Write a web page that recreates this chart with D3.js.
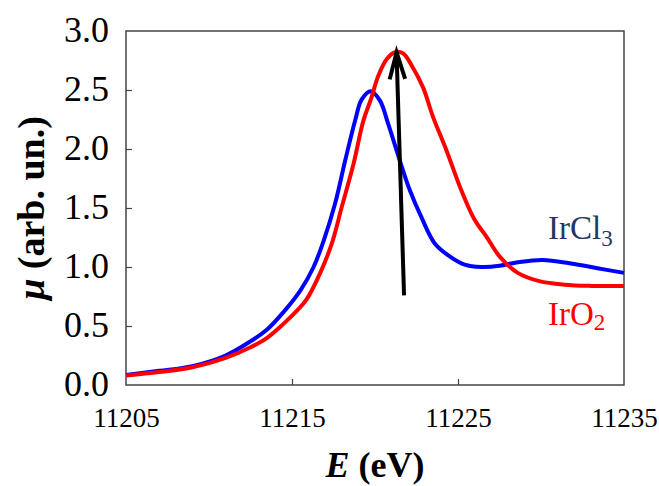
<!DOCTYPE html>
<html>
<head>
<meta charset="utf-8">
<script src="https://cdn.jsdelivr.net/npm/d3@7"></script>
<style>
  html, body { margin: 0; padding: 0; background: #fff; }
  svg { display: block; }
  text { font-family: "Liberation Serif", "Times New Roman", serif; }
</style>
</head>
<body>
<svg id="chart" width="659" height="486"></svg>
<script>
// Ir L3-edge XANES spectra
const energyIrCl3 = [11205, 11207, 11209, 11211, 11212.5, 11213.5, 11214.5, 11215.5, 11216.3, 11216.9,
  11217.6, 11218.2, 11218.8, 11219.2, 11219.75, 11220.3, 11220.8, 11221.5, 11222.1, 11222.8,
  11223.6, 11224.5, 11225.4, 11226.4, 11227.5, 11228.6, 11230.1, 11231.8, 11233.4, 11235];
const muIrCl3 = [0.085, 0.12, 0.16, 0.25, 0.37, 0.47, 0.62, 0.80, 1.0, 1.22,
  1.54, 1.90, 2.24, 2.42, 2.49, 2.41, 2.21, 1.90, 1.65, 1.42,
  1.20, 1.09, 1.02, 1.0, 1.01, 1.04, 1.06, 1.03, 0.99, 0.95];

const energyIrO2 = [11205, 11207, 11209, 11211, 11212.5, 11213.5, 11214.5, 11215.3, 11215.9, 11216.7, 11217.4,
  11218.0, 11218.7, 11219.3, 11219.75, 11220.2, 11220.7, 11221.2, 11221.7, 11222.2, 11222.9,
  11223.5, 11224.3, 11225.2, 11226.0, 11226.7, 11227.5, 11228.6, 11229.9, 11231.4, 11233, 11235];
const muIrO2 = [0.08, 0.11, 0.15, 0.23, 0.32, 0.40, 0.52, 0.63, 0.73, 0.95, 1.20,
  1.51, 1.87, 2.24, 2.42, 2.62, 2.76, 2.82, 2.81, 2.71, 2.52,
  2.27, 1.99, 1.65, 1.40, 1.26, 1.09, 0.95, 0.88, 0.85, 0.84, 0.84];

const xTicks = [11205, 11215, 11225, 11235];
const yTicks = [0, 0.5, 1, 1.5, 2, 2.5, 3];

// white-line shift arrow: [E, mu] start and end
const arrowFrom = [11221.75, 0.76];
const arrowTo = [11221.3, 2.82];

const svg = d3.select("#chart");
const margin = { left: 126, right: 35, top: 31, bottom: 101 };
const W = 659, H = 486;

const x = d3.scaleLinear().domain([11205, 11235]).range([margin.left, W - margin.right]);
const y = d3.scaleLinear().domain([0, 3]).range([H - margin.bottom, margin.top]);

// frame
svg.append("rect")
  .attr("x", x.range()[0]).attr("y", y.range()[1])
  .attr("width", x.range()[1] - x.range()[0])
  .attr("height", y.range()[0] - y.range()[1])
  .attr("fill", "none").attr("stroke", "#444").attr("stroke-width", 1.5);

// axes with inward ticks
const xAxis = svg.append("g")
  .attr("transform", `translate(0,${y.range()[0]})`)
  .call(d3.axisBottom(x).tickValues(xTicks).tickSize(-6).tickFormat(d3.format("d")));
const yAxis = svg.append("g")
  .attr("transform", `translate(${x.range()[0]},0)`)
  .call(d3.axisLeft(y).tickValues(yTicks).tickSize(-6).tickPadding(17).tickFormat(d3.format(".1f")));

[xAxis, yAxis].forEach(g => {
  g.select(".domain").remove();
  g.selectAll(".tick line").attr("stroke", "#444").attr("stroke-width", 1.2);
  g.selectAll(".tick text").attr("fill", "#000").style("font-family", "'Liberation Serif', serif");
});
xAxis.selectAll(".tick text").style("font-size", "27px").attr("y", 42).attr("dy", 0);
yAxis.selectAll(".tick text").style("font-size", "36px").attr("dy", "0.3em");
xAxis.selectAll(".tick").filter(d => d === 11205 || d === 11235).select("line").remove();
yAxis.selectAll(".tick").filter(d => d === 0 || d === 3).select("line").remove();

// spectra
const line = d3.line().x(d => x(d[0])).y(d => y(d[1])).curve(d3.curveCatmullRom.alpha(0.5));
const clPts = energyIrCl3.map((e, i) => [e, muIrCl3[i]]);
const oPts = energyIrO2.map((e, i) => [e, muIrO2[i]]);

svg.append("path").datum(clPts).attr("d", line)
  .attr("fill", "none").attr("stroke", "#0000ff").attr("stroke-width", 4).attr("stroke-linejoin", "round");
svg.append("path").datum(oPts).attr("d", line)
  .attr("fill", "none").attr("stroke", "#ff0000").attr("stroke-width", 4).attr("stroke-linejoin", "round");

// arrow
const ax0 = x(arrowFrom[0]), ay0 = y(arrowFrom[1]);
const ax1 = x(arrowTo[0]), ay1 = y(arrowTo[1]);
svg.append("line").attr("x1", ax0).attr("y1", ay0).attr("x2", ax1).attr("y2", ay1 + 2)
  .attr("stroke", "#000").attr("stroke-width", 4);
const ang = Math.atan2(ay0 - ay1, ax0 - ax1);
const headLen = 28, spread = 0.28;
svg.append("path")
  .attr("d", `M${ax1 + headLen * Math.cos(ang - spread)},${ay1 + headLen * Math.sin(ang - spread)}
              L${ax1},${ay1}
              L${ax1 + headLen * Math.cos(ang + spread)},${ay1 + headLen * Math.sin(ang + spread)}`)
  .attr("fill", "none").attr("stroke", "#000").attr("stroke-width", 4).attr("stroke-linejoin", "miter");

// series labels
const clLabel = svg.append("text").attr("x", 548).attr("y", 239)
  .attr("fill", "#1f3864").style("font-size", "33px");
clLabel.append("tspan").text("IrCl");
clLabel.append("tspan").text("3").attr("dy", 7).style("font-size", "23px");

const oLabel = svg.append("text").attr("x", 548).attr("y", 325)
  .attr("fill", "#ff0000").style("font-size", "33px");
oLabel.append("tspan").text("IrO");
oLabel.append("tspan").text("2").attr("dy", 5).style("font-size", "23px");

// axis titles
const xTitle = svg.append("text").attr("x", 375).attr("y", 477)
  .attr("text-anchor", "middle").style("font-size", "36px").style("font-weight", "bold");
xTitle.append("tspan").text("E").style("font-style", "italic");
xTitle.append("tspan").text(" (eV)");

const yTitle = svg.append("text")
  .attr("transform", `translate(44,${(y.range()[0] + y.range()[1]) / 2}) rotate(-90)`)
  .attr("text-anchor", "middle").style("font-size", "38px").style("font-weight", "bold");
yTitle.append("tspan").text("μ").style("font-style", "italic");
yTitle.append("tspan").text(" (arb. un.)");
</script>
</body>
</html>
